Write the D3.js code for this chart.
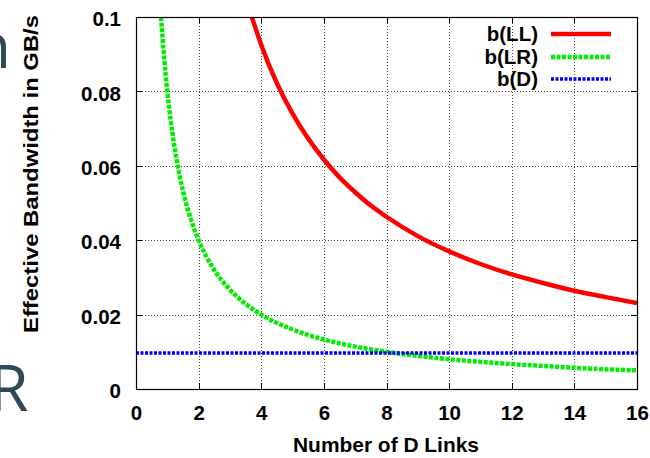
<!DOCTYPE html>
<html><head><meta charset="utf-8">
<script src="https://cdn.jsdelivr.net/npm/d3@7"></script>
<style>body{margin:0;background:#fff}svg{display:block}text{font-family:"Liberation Sans",Arial,sans-serif;font-weight:bold}</style>
</head><body><svg id="c" width="650" height="458"></svg>
<script>
const xTicks = [0,2,4,6,8,10,12,14,16];
const yTicks = [0,0.02,0.04,0.06,0.08,0.1];
const yTickLabels = ["0","0.02","0.04","0.06","0.08","0.1"];
const llX = [3.7,3.8,4,4.5,5,5.5,6,6.5,7,7.5,8,9,10,11,12,13,14,15,16];
const llY = [0.1,0.0974,0.0925,0.0822,0.074,0.0673,0.0617,0.0569,0.0529,0.0493,0.0463,0.0411,0.037,0.0336,0.0308,0.0285,0.0264,0.0247,0.0231];
const lrX = [0.8,0.9,1,1.2,1.4,1.6,1.8,2,2.5,3,3.5,4,5,6,7,8,9,10,11,12,13,14,15,16];
const lrY = [0.1,0.0889,0.08,0.0667,0.0571,0.05,0.0444,0.04,0.032,0.0267,0.0229,0.02,0.016,0.0133,0.0114,0.01,0.0089,0.008,0.0073,0.0067,0.0062,0.0057,0.0053,0.005];
const dX = [0,16];
const dY = [0.0097,0.0097];
const seriesNames = ["b(LL)","b(LR)","b(D)"];
const xTitle = "Number of D Links";
const yTitle = "Effective Bandwidth in GB/s";

const svg = d3.select("#c");
const L=136,R=637,T=17,B=389;
const FS=20.5;
const x = d3.scaleLinear().domain([0,16]).range([L,R]);
const y = d3.scaleLinear().domain([0,0.1]).range([B,T]);

// decorative slide letters
svg.append("text").attr("x",-27).attr("y",68).attr("font-size",62)
  .style("font-family","'Open Sans',sans-serif").style("font-weight","normal").attr("fill","#2f4a54").text("n");
svg.append("text").attr("x",-11).attr("y",411).attr("font-size",64)
  .style("font-family","'Open Sans',sans-serif").style("font-weight","normal").attr("fill","#2f4a54").text("R");

// grid
const g = svg.append("g");
g.selectAll(".gx").data(xTicks.slice(1,-1)).join("line")
  .attr("x1",d=>Math.round(x(d))+0.5).attr("x2",d=>Math.round(x(d))+0.5).attr("y1",T).attr("y2",B)
  .attr("stroke","#444").attr("stroke-width",1).attr("stroke-dasharray","1,2");
g.selectAll(".gy").data(yTicks.slice(1,-1)).join("line")
  .attr("y1",d=>Math.round(y(d))+0.5).attr("y2",d=>Math.round(y(d))+0.5).attr("x1",L).attr("x2",R)
  .attr("stroke","#444").attr("stroke-width",1).attr("stroke-dasharray","1,2");

// axes
const ax = d3.axisBottom(x).tickValues(xTicks).tickSize(0).tickPadding(0);
const axG = svg.append("g").attr("transform",`translate(0,${B})`).call(ax);
axG.select(".domain").remove();
axG.selectAll("text").attr("font-size",FS).attr("fill","#000").attr("y",31).attr("dy",null);
const ay = d3.axisLeft(y).tickValues(yTicks).tickFormat((d,i)=>yTickLabels[i]).tickSize(0).tickPadding(15);
const ayG = svg.append("g").attr("transform",`translate(${L},0)`).call(ay);
ayG.select(".domain").remove();
ayG.selectAll("text").attr("font-size",FS).attr("fill","#000").attr("dy","0.42em");

// inward tick marks
const tk = svg.append("g").attr("stroke","#000").attr("stroke-width",1);
xTicks.forEach(d=>{
  const px = Math.round(x(d))+0.5;
  tk.append("line").attr("x1",px).attr("x2",px).attr("y1",B).attr("y2",B-6);
  tk.append("line").attr("x1",px).attr("x2",px).attr("y1",T).attr("y2",T+6);
});
yTicks.forEach(d=>{
  const py = Math.round(y(d))+0.5;
  tk.append("line").attr("y1",py).attr("y2",py).attr("x1",L).attr("x2",L+6);
  tk.append("line").attr("y1",py).attr("y2",py).attr("x1",R).attr("x2",R-6);
});

// lines
svg.append("clipPath").attr("id","pc").append("rect").attr("x",L).attr("y",T).attr("width",R-L).attr("height",B-T);
const line = d3.line().x(d=>x(d[0])).y(d=>y(d[1])).curve(d3.curveMonotoneX);
const series = [
  {pts: llX.map((v,i)=>[v,llY[i]]), color:"#ff0000", w:4.5, dash:null},
  {pts: lrX.map((v,i)=>[v,lrY[i]]), color:"#00ee00", w:4.5, dash:"4,1.5"},
  {pts: dX.map((v,i)=>[v,dY[i]]), color:"#0000ff", w:3.5, dash:"3,1.5"}
];
const pg = svg.append("g").attr("clip-path","url(#pc)");
series.forEach(s=>{
  pg.append("path").attr("d",line(s.pts)).attr("fill","none").attr("stroke",s.color)
    .attr("stroke-width",s.w).attr("stroke-dasharray",s.dash);
});

// border
svg.append("rect").attr("x",L+0.5).attr("y",T+0.5).attr("width",R-L).attr("height",B-T)
  .attr("fill","none").attr("stroke","#000").attr("stroke-width",1.2);

// legend
const legY = [34,57,79];
series.forEach((s,i)=>{
  svg.append("text").attr("x",538).attr("y",legY[i]+7).attr("text-anchor","end").attr("font-size",FS).text(seriesNames[i]);
  svg.append("line").attr("x1",551).attr("x2",611).attr("y1",legY[i]).attr("y2",legY[i])
    .attr("stroke",s.color).attr("stroke-width",s.w).attr("stroke-dasharray",s.dash);
});

// titles
svg.append("text").attr("x",386).attr("y",452).attr("text-anchor","middle").attr("font-size",FS)
  .attr("textLength",186).attr("lengthAdjust","spacingAndGlyphs").text(xTitle);
svg.append("text").attr("transform",`translate(38,174) rotate(-90)`).attr("text-anchor","middle").attr("font-size",FS)
  .attr("textLength",318).attr("lengthAdjust","spacingAndGlyphs").text(yTitle);
</script></body></html>
